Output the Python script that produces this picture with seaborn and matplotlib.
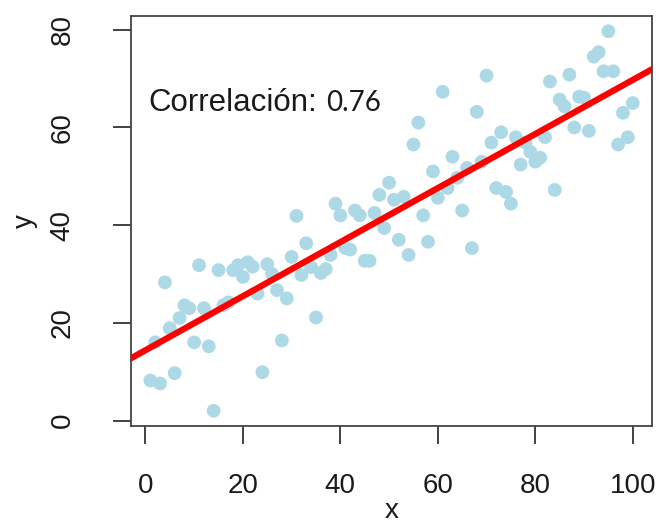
import numpy as np
import pandas as pd
import seaborn as sns
import matplotlib.pyplot as plt

# values
x_vals = list(range(1, 101))
y_vals = [8.2, 16.0, 7.6, 28.3, 18.9, 9.7, 21.0, 23.6, 23.0, 16.0,
          31.8, 23.0, 15.2, 2.0, 30.8, 23.6, 24.2, 30.8, 31.8, 29.4,
          32.4, 31.5, 26.0, 9.9, 32.0, 30.0, 26.7, 16.4, 25.0, 33.5,
          41.9, 29.8, 36.3, 31.4, 21.1, 30.2, 31.0, 33.9, 44.4, 42.0,
          35.3, 35.0, 43.0, 42.0, 32.7, 32.7, 42.5, 46.2, 39.4, 48.7,
          45.2, 37.0, 45.8, 33.9, 56.5, 61.0, 42.0, 36.6, 51.0, 45.6,
          67.3, 47.6, 54.0, 49.7, 43.0, 51.7, 35.3, 63.2, 53.0, 70.6,
          56.9, 47.6, 59.0, 46.8, 44.4, 58.0, 52.4, 56.9, 55.0, 53.0,
          53.8, 58.0, 69.4, 47.2, 65.7, 64.3, 70.8, 60.0, 66.3, 66.1,
          59.3, 74.5, 75.4, 71.5, 79.7, 71.5, 56.5, 63.0, 58.0, 65.0]
x_ticks = [0, 20, 40, 60, 80, 100]
y_ticks = [0, 20, 40, 60, 80]
corr_label = "Correlación:"
corr_value = "0.76"

df = pd.DataFrame({"x": x_vals, "y": y_vals})

sns.set_style("ticks")
plt.rcParams['font.family'] = ['Liberation Sans', 'DejaVu Sans']

fig = plt.figure(figsize=(6.59, 5.25), dpi=100)
ax = fig.add_axes([0.1988, 0.1886, 0.7906, 0.7809])

# R style axis range: data range plus 4% on each side
xr = df["x"].max() - df["x"].min()
yr = df["y"].max() - df["y"].min()
ax.set_xlim(df["x"].min() - 0.04 * xr, df["x"].max() + 0.04 * xr)
ax.set_ylim(df["y"].min() - 0.04 * yr, df["y"].max() + 0.04 * yr)

sns.scatterplot(data=df, x="x", y="y", ax=ax, color="#ADD8E6",
                s=98, edgecolor="none", linewidth=0, zorder=2)
sns.regplot(data=df, x="x", y="y", ax=ax, scatter=False, ci=None,
            truncate=False, color="red", line_kws={"linewidth": 4.5, "zorder": 3})

ax.set_xticks(x_ticks)
ax.set_yticks(y_ticks)
ax.tick_params(axis="both", direction="out", length=13, width=1.3,
               color="#333333", labelsize=20, labelcolor="#1a1a1a")
ax.tick_params(axis="x", pad=21)
ax.tick_params(axis="y", pad=27, labelrotation=90)
for lbl in ax.get_yticklabels():
    lbl.set_va("center")

for side in ax.spines.values():
    side.set_color("#444444")
    side.set_linewidth(1.3)

ax.set_xlabel("x", fontsize=20, color="#1a1a1a")
ax.set_ylabel("y", fontsize=20, color="#1a1a1a")
ax.xaxis.set_label_coords(0.5, -0.176)
ax.yaxis.set_label_coords(-0.178, 0.5)

ax.text(0.0336, 0.768, corr_label, transform=ax.transAxes, fontsize=22.5,
        color="#1a1a1a", ha="left", va="baseline")
ax.text(0.374, 0.768, corr_value, transform=ax.transAxes, fontsize=20,
        color="#1a1a1a", ha="left", va="baseline", family=["Lato", "DejaVu Sans"])

plt.savefig("out.png", dpi=100)
